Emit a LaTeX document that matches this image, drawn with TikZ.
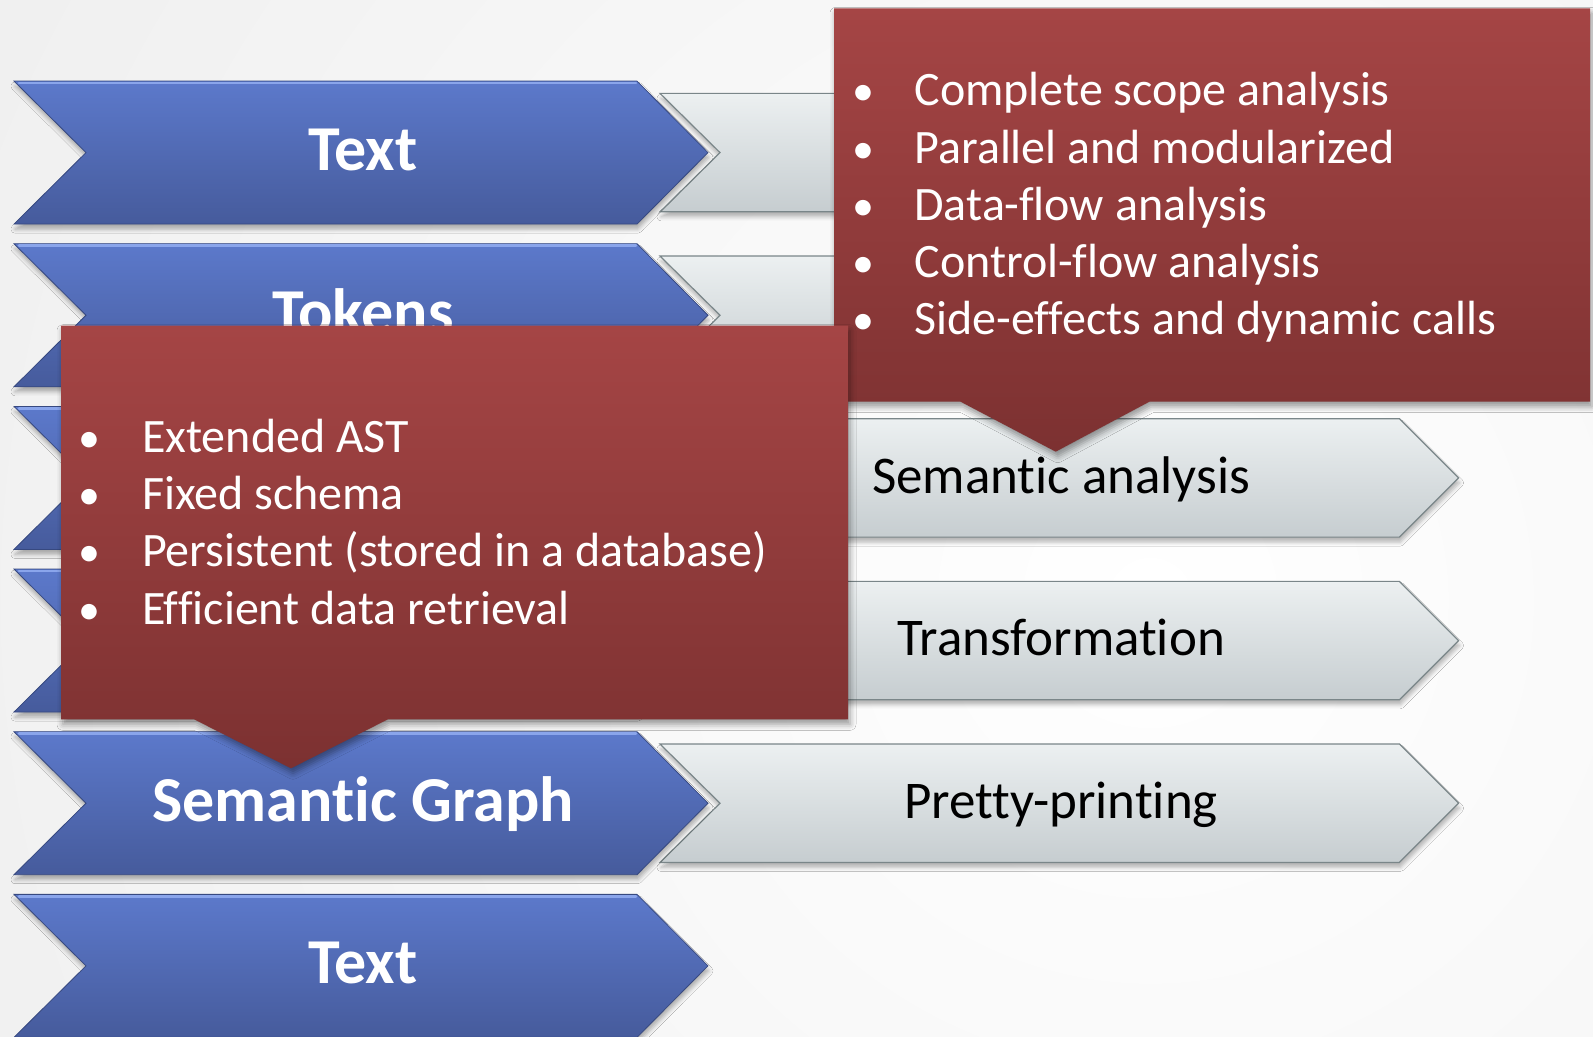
\documentclass[tikz,border=0pt]{standalone}
\usepackage{fontspec}
\setmainfont[Ligatures=NoCommon]{Carlito}
\usetikzlibrary{shadows.blur}

\definecolor{bgedge}{RGB}{228,228,228}
\definecolor{bluetop}{RGB}{92,121,203}
\definecolor{bluebot}{RGB}{70,91,156}
\definecolor{bluehi}{RGB}{138,165,235}
\definecolor{blueline}{RGB}{55,73,128}
\definecolor{greytop}{RGB}{236,240,241}
\definecolor{greybot}{RGB}{198,205,208}
\definecolor{greyline}{RGB}{122,134,137}
\definecolor{redtop}{RGB}{165,69,69}
\definecolor{redbot}{RGB}{124,49,49}

\tikzset{
  stagebox/.style={top color=bluetop, bottom color=bluebot, draw=blueline, line width=0.4pt,
    blur shadow={shadow xshift=0.5pt, shadow yshift=-2.5pt, shadow blur radius=2pt, shadow opacity=30}},
  stagehi/.style={draw=bluehi, line width=1.3pt, line cap=round},
  flowbox/.style={top color=greytop, bottom color=greybot, draw=greyline, line width=0.6pt,
    blur shadow={shadow xshift=0.5pt, shadow yshift=-2.5pt, shadow blur radius=2pt, shadow opacity=28}},
  notebox/.style={top color=redtop, bottom color=redbot,
    blur shadow={shadow xshift=1pt, shadow yshift=-2.5pt, shadow blur radius=3pt, shadow opacity=40}},
  stagetext/.style={anchor=base, inner sep=0pt, text=white, font=\fontsize{32}{38}\selectfont\bfseries},
  flowtext/.style={anchor=base, inner sep=0pt, text=black, font=\fontsize{26.5}{31}\selectfont},
  notetext/.style={anchor=base west, inner sep=0pt, text=white, font=\fontsize{24}{29}\selectfont},
  notedot/.style={anchor=base, inner sep=0pt, text=white, font=\fontsize{22}{29}\selectfont},
}

% blue stage chevron centred on row #1
\newcommand\stagechev[1]{%
  \path[stagebox] (14,#1-71.5) -- (637,#1-71.5) -- (708,#1) -- (637,#1+71.5)
    -- (14,#1+71.5) -- (86,#1) -- cycle;
  \path[stagehi] (19,#1-69.6) -- (636,#1-69.6);
}
% grey processing arrow centred on row #1
\newcommand\flowchev[1]{%
  \path[flowbox] (660,#1-59.2) -- (1399.4,#1-59.2) -- (1458.6,#1) -- (1399.4,#1+59.2)
    -- (660,#1+59.2) -- (720,#1) -- cycle;
}

\begin{document}
\begin{tikzpicture}[x=0.5pt, y=-0.5pt]
  \useasboundingbox (0,0) rectangle (1593,1037);

  % backdrop
  \begin{scope}
    \clip (0,0) rectangle (1593,1037);
    \fill[bgedge] (0,0) rectangle (1593,1037);
    \shade[inner color=white, outer color=bgedge] (1150,600) circle (2300);
  \end{scope}

  % processing steps
  \flowchev{152.6}
  \flowchev{315.25}
  \flowchev{477.9}
  \flowchev{640.55}
  \flowchev{803.2}

  % representations
  \stagechev{152.6}
  \stagechev{315.25}
  \stagechev{477.9}
  \stagechev{640.55}
  \stagechev{803.2}
  \stagechev{965.85}

  \node[stagetext] (textin)  at (363,170.6)   {Text};
  \node[stagetext] (tokens)  at (363,333.25)  {Tokens};
  \node[stagetext] (graph)   at (363,821.2)   {Semantic Graph};
  \node[stagetext] (textout) at (363,983.85)  {Text};

  \node[flowtext] (semana)  at (1061,493) {Semantic analysis};
  \node[flowtext] (transf)  at (1061,655.6) {Transformation};
  \node[flowtext] (pretty)  at (1061,818.3) {Pretty-printing};

  % analysis callout
  \path[notebox] (834,8.3) -- (1590,8.3) -- (1590,401.7) -- (1149.4,401.7)
    -- (1055.7,451.7) -- (960.5,401.7) -- (834,401.7) -- cycle;
  \foreach \txt [count=\i] in {Complete scope analysis, Parallel and modularized,
      Data-flow analysis, Control-flow analysis, Side-effects and dynamic calls} {
    \node[notedot]  (ua\i) at (863.4,{106+57.2*(\i-1)}) {•};
    \node[notetext] (ut\i) at (914,{106+57.2*(\i-1)}) {\txt};
  }

  % graph callout
  \path[notebox] (61,325.7) -- (848,325.7) -- (848,719.3) -- (388,719.3)
    -- (291,768.3) -- (194,719.3) -- (61,719.3) -- cycle;
  \foreach \txt [count=\i] in {Extended AST, Fixed schema,
      Persistent (stored in a database), Efficient data retrieval} {
    \node[notedot]  (la\i) at (89.7,{452.7+57.1*(\i-1)}) {•};
    \node[notetext] (lt\i) at (141.6,{452.7+57.1*(\i-1)}) {\txt};
  }
\end{tikzpicture}
\end{document}
